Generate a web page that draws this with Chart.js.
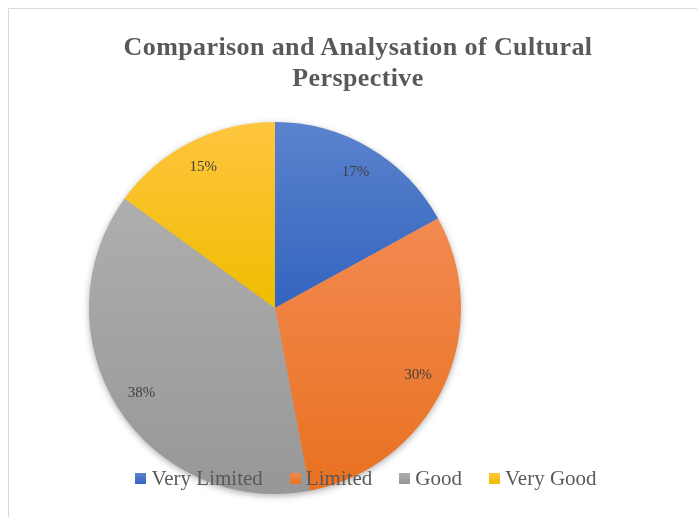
<!DOCTYPE html>
<html>
<head>
<meta charset="utf-8">
<script src="https://cdn.jsdelivr.net/npm/chart.js@4.4.0/dist/chart.umd.min.js"></script>
<style>
  html, body { margin: 0; padding: 0; background: #fff; }
  body { font-family: "Liberation Serif", "Times New Roman", serif; color: #595959; }
  #wrap { position: relative; width: 697px; height: 517px; overflow: hidden; }
  canvas { display: block; position: absolute; left: 0; top: 0; }
  #title {
    position: absolute; left: 0; top: 31px; width: 716px;
    text-align: center; font-weight: bold; font-size: 26px; line-height: 31px;
    letter-spacing: 0.4px;
  }
  #legend {
    position: absolute; left: 0; top: 466px; width: 732px;
    display: flex; justify-content: center; font-size: 21px; line-height: 24px;
  }
  #legend .item { display: flex; align-items: center; margin: 0 13.5px; white-space: nowrap; }
  #legend .box { width: 11px; height: 11px; margin-right: 5px; }
</style>
</head>
<body>
<div id="wrap">
  <canvas id="pieChart" width="697" height="517"></canvas>
  <div id="title"></div>
  <div id="legend"></div>
</div>
<script>
const categories = ['Very Limited', 'Limited', 'Good', 'Very Good'];
const shares = [17, 30, 38, 15];
const titleLines = ['Comparison and Analysation of Cultural', 'Perspective'];

// light (top) and dark (bottom) tone of each slice
const topColors = ['#5b83cd', '#f28a52', '#aeaeae', '#ffc53f'];
const bottomColors = ['#3364bf', '#e9711f', '#979797', '#efbd00'];

const serif = '"Liberation Serif", "Times New Roman", serif';

// title and legend as page text
document.getElementById('title').innerHTML = titleLines.join('<br>');
const legendEl = document.getElementById('legend');
categories.forEach((name, i) => {
    const item = document.createElement('div');
    item.className = 'item';
    const box = document.createElement('span');
    box.className = 'box';
    box.style.background = `linear-gradient(${topColors[i]}, ${bottomColors[i]})`;
    item.appendChild(box);
    item.appendChild(document.createTextNode(name));
    legendEl.appendChild(item);
});

// vertical gradient spanning each slice's own extent
function sliceGradient(ctx) {
    const chart = ctx.chart;
    const area = chart.chartArea;
    const i = ctx.dataIndex;
    if (!area || i === undefined) return topColors[i || 0];
    const cx = (area.left + area.right) / 2;
    const cy = (area.top + area.bottom) / 2;
    const r = Math.min(area.right - area.left, area.bottom - area.top) / 2;
    const total = shares.reduce((a, b) => a + b, 0);
    let before = 0;
    for (let k = 0; k < i; k++) before += shares[k];
    const a0 = -Math.PI / 2 + before / total * Math.PI * 2;
    const a1 = a0 + shares[i] / total * Math.PI * 2;
    const ys = [cy, cy + r * Math.sin(a0), cy + r * Math.sin(a1)];
    [-Math.PI / 2, Math.PI / 2, Math.PI * 1.5].forEach(a => {
        if (a > a0 && a < a1) ys.push(cy + r * Math.sin(a));
    });
    const g = chart.ctx.createLinearGradient(0, Math.min(...ys), 0, Math.max(...ys));
    g.addColorStop(0, topColors[i]);
    g.addColorStop(1, bottomColors[i]);
    return g;
}

const decorations = {
    id: 'decorations',
    beforeDraw(chart) {
        const c = chart.ctx;
        c.save();
        c.strokeStyle = '#d9d9d9';
        c.lineWidth = 1;
        c.beginPath();
        c.moveTo(8.5, chart.height);
        c.lineTo(8.5, 8.5);
        c.lineTo(chart.width, 8.5);
        c.stroke();
        c.restore();
    },
    beforeDatasetsDraw(chart) {
        // soft shadow behind the pie
        const arc = chart.getDatasetMeta(0).data[0];
        const c = chart.ctx;
        c.save();
        c.shadowColor = 'rgba(0,0,0,0.35)';
        c.shadowBlur = 7;
        c.shadowOffsetY = 2;
        c.fillStyle = '#aaa';
        c.beginPath();
        c.arc(arc.x, arc.y, arc.outerRadius - 0.5, 0, Math.PI * 2);
        c.fill();
        c.restore();
    },
    afterDatasetsDraw(chart) {
        const c = chart.ctx;
        const meta = chart.getDatasetMeta(0);
        c.save();
        c.font = '15px ' + serif;
        c.fillStyle = '#404040';
        c.textAlign = 'center';
        c.textBaseline = 'middle';
        meta.data.forEach((arc, i) => {
            const mid = (arc.startAngle + arc.endAngle) / 2;
            const d = arc.outerRadius * 0.85;
            c.fillText(shares[i] + '%', arc.x + Math.cos(mid) * d, arc.y + Math.sin(mid) * d);
        });
        c.restore();
    }
};

function drawChart() {
    new Chart(document.getElementById('pieChart'), {
        type: 'pie',
        data: {
            labels: categories,
            datasets: [{
                data: shares,
                backgroundColor: sliceGradient,
                borderWidth: 0,
                hoverOffset: 0
            }]
        },
        options: {
            responsive: false,
            animation: false,
            layout: { padding: { left: 89, right: 236, top: 122, bottom: 23 } },
            plugins: {
                legend: { display: false },
                title: { display: false },
                tooltip: { enabled: false }
            }
        },
        plugins: [decorations]
    });
}

// draw once the page text has picked up its fonts
document.fonts.ready.then(() => requestAnimationFrame(drawChart));
</script>
</body>
</html>
